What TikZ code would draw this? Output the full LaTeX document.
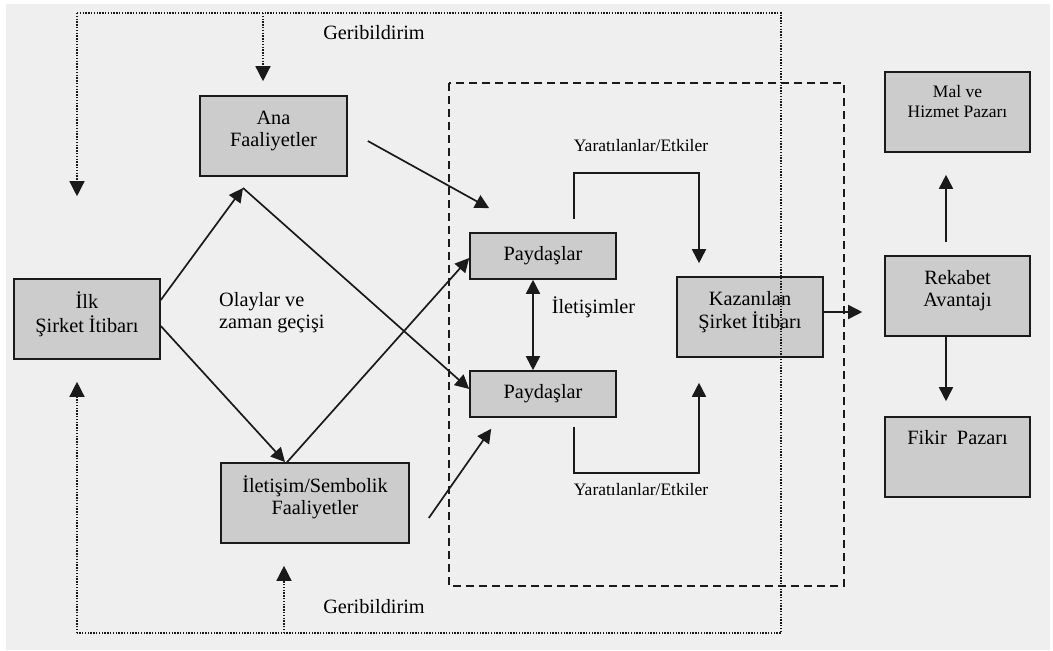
\documentclass[tikz,border=0pt]{standalone}
\usepackage{fontspec}
\setmainfont{Liberation Serif}
\usetikzlibrary{arrows.meta,calc}

\definecolor{canvas}{HTML}{EFEFEF}
\definecolor{boxfill}{HTML}{CCCCCC}
\definecolor{ink}{HTML}{1A1A1A}

\newcommand\mainsize{\fontsize{20.3pt}{22pt}\selectfont}
\newcommand\smallsize{\fontsize{17.5pt}{20pt}\selectfont}
% text block hung from the top edge of an 80pt box
\newcommand\boxlines[2]{\vbox to 80pt{\vskip #1\hbox{\begin{tabular}{@{}c@{}}#2\end{tabular}}\vss}}

\tikzset{
  box/.style={draw=ink, line width=1.6pt, fill=boxfill, inner sep=0pt,
    minimum height=80pt, font=\mainsize},
  flow/.style={draw=ink, line width=1.7pt, -{Triangle[length=14pt,width=14pt]}},
  bothflow/.style={draw=ink, line width=1.7pt,
    {Triangle[length=14pt,width=14pt]}-{Triangle[length=14pt,width=14pt]}},
  fbline/.style={draw=ink, line width=1.4pt, dash pattern=on 1.4pt off 1.4pt},
  fbarrow/.style={fbline, -{Triangle[length=15pt,width=15pt]}},
  groupbox/.style={draw=ink, line width=1.8pt, dash pattern=on 8pt off 5pt},
  lbl/.style={inner sep=0pt, font=\mainsize},
  smalllbl/.style={inner sep=0pt, font=\smallsize},
}

\begin{document}
\begin{tikzpicture}[x=1pt, y=-1pt]
  % page and canvas
  \fill[white] (0,0) rectangle (1053,651);
  \fill[canvas] (6,4) rectangle (1050,650);
  \useasboundingbox (0,0) rectangle (1053,651);

  % stakeholder group frame
  \draw[groupbox] (449,83) rectangle (844,586);

  % boxes
  \node[box, minimum width=146pt] (ilk) at (87,319)
    {\boxlines{13pt}{İlk\\Şirket İtibarı}};
  \node[box, minimum width=147pt] (ana) at (273.5,136)
    {\boxlines{13pt}{Ana\\Faaliyetler}};
  \node[box, minimum width=188pt] (ilet) at (315,503)
    {\boxlines{13pt}{İletişim/Sembolik\\Faaliyetler}};
  \node[box, minimum width=146pt, minimum height=46pt] (payA) at (543,256) {Paydaşlar};
  \node[box, minimum width=146pt, minimum height=46pt] (payB) at (543,394) {Paydaşlar};
  \node[box, minimum width=146pt] (kaz) at (750,317)
    {\boxlines{13pt}{Kazanılan\\Şirket İtibarı}};
  \node[box, minimum width=145pt, font=\smallsize] (mal) at (957.5,112)
    {\boxlines{11pt}{Mal ve\\Hizmet Pazarı}};
  \node[box, minimum width=145pt] (rek) at (957.5,296)
    {\boxlines{13pt}{Rekabet\\Avantajı}};
  \node[box, minimum width=145pt] (fik) at (957.5,457)
    {\boxlines{12pt}{Fikir~ Pazarı}};

  % feedback loop
  \coordinate (fbTL) at (77,13);
  \coordinate (fbTR) at (781,13);
  \coordinate (fbBR) at (781,633);
  \coordinate (fbBL) at (77,633);
  \draw[fbline] (fbTL) -- (fbTR) -- (fbBR) -- (fbBL);
  \draw[fbarrow] (fbTL) -- ([xshift=-10pt,yshift=82pt]ilk.north);
  \draw[fbarrow] (fbBL) -- ([xshift=-10pt,yshift=-22pt]ilk.south);
  \coordinate (anaFb) at ([xshift=-10.5pt,yshift=14pt]ana.north);
  \coordinate (iletFb) at ([xshift=-31pt,yshift=-22pt]ilet.south);
  \draw[fbarrow] (anaFb |- fbTL) -- (anaFb);
  \draw[fbarrow] (iletFb |- fbBL) -- (iletFb);
  \node[lbl] (gbTop) at (374,33) {Geribildirim};
  \node[lbl] (gbBot) at (374,606.5) {Geribildirim};

  % activity paths
  \coordinate (peak) at (243,188);
  \coordinate (valley) at (285,462);
  \draw[flow] ([yshift=19pt]ilk.east) -- (peak);
  \draw[flow] (peak) -- ([yshift=5pt]payB.west);
  \draw[flow] ([yshift=-7pt]ilk.east) -- (valley);
  \draw[flow] ([xshift=-28pt]ilet.north) -- ([yshift=-2pt]payA.west);
  \draw[flow] ([xshift=20pt,yshift=-5pt]ana.east) -- ([xshift=20pt,yshift=24pt]payA.north west);
  \draw[flow] ([xshift=19pt,yshift=-15pt]ilet.east) -- ([xshift=22pt,yshift=-11pt]payB.south west);
  \node[lbl, anchor=north west, align=left] (olay) at (219,292)
    {Olaylar ve\\zaman geçişi};

  % stakeholders to earned reputation
  \draw[bothflow] ([xshift=-10pt]payA.south) -- ([xshift=-10pt]payB.north);
  \node[lbl, anchor=base] (iletisim) at (593.5,313) {İletişimler};
  \draw[flow] ([xshift=31pt,yshift=13pt]payA.north) -- ++(0,-46)
    -| ([xshift=-51pt,yshift=13pt]kaz.north);
  \draw[flow] ([xshift=31pt,yshift=-9pt]payB.south) -- ++(0,46)
    -| ([xshift=-51pt,yshift=-25pt]kaz.south);
  \node[smalllbl, anchor=base] (yarA) at (641,151) {Yaratılanlar/Etkiler};
  \node[smalllbl, anchor=base] (yarB) at (641,495) {Yaratılanlar/Etkiler};

  % competitive advantage and markets
  \draw[flow] ([yshift=5pt]kaz.east) -- ([xshift=-22pt,yshift=-16pt]rek.west);
  \draw[flow] ([xshift=-11.5pt,yshift=13pt]rek.north) -- ([xshift=-11.5pt,yshift=-22pt]mal.south);
  \draw[flow] ([xshift=-11.5pt]rek.south) -- ([xshift=-11.5pt,yshift=15pt]fik.north);
\end{tikzpicture}
\end{document}
